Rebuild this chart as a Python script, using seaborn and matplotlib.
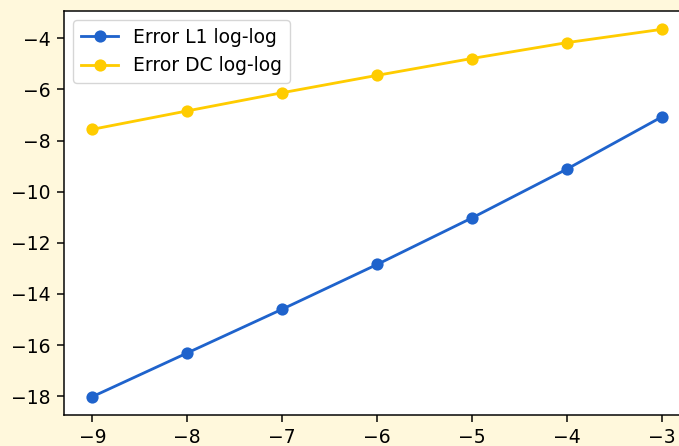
import matplotlib
matplotlib.use("Agg")
import matplotlib.pyplot as plt
import seaborn as sns
import pandas as pd

log_h = [-9, -8, -7, -6, -5, -4, -3]
err_l1 = [-18.02, -16.31, -14.60, -12.85, -11.03, -9.12, -7.08]
err_dc = [-7.56, -6.84, -6.13, -5.45, -4.79, -4.17, -3.65]

df = pd.concat([
    pd.DataFrame({"x": log_h, "y": err_l1, "series": "Error L1 log-log"}),
    pd.DataFrame({"x": log_h, "y": err_dc, "series": "Error DC log-log"}),
])

S = 1.35
plt.rcParams.update({
    'font.family': ['DejaVu Sans'],
    'font.size': 10 * S,
    'axes.linewidth': 0.8 * S,
    'xtick.major.size': 3.5 * S,
    'ytick.major.size': 3.5 * S,
    'xtick.major.width': 0.8 * S,
    'ytick.major.width': 0.8 * S,
    'xtick.major.pad': 3.5 * S,
    'ytick.major.pad': 3.5 * S,
    'xtick.labelsize': 10 * S,
    'ytick.labelsize': 10 * S,
    'legend.fontsize': 10 * S,
})

fig = plt.figure(figsize=(6.79, 4.46), dpi=100, facecolor="#FFF8DC")
ax = fig.add_axes([64/679, 1 - 415/446, 626/679, 404/446])
ax.set_facecolor("white")

sns.lineplot(data=df, x="x", y="y", hue="series", marker="o", markersize=8.8,
             markeredgewidth=0, linewidth=1.5 * S,
             palette={"Error L1 log-log": "#1F63CC", "Error DC log-log": "#FFCC00"},
             ax=ax)

ax.set_xlabel("")
ax.set_ylabel("")
ax.set_yticks([-18, -16, -14, -12, -10, -8, -6, -4])
ax.set_xticks([-9, -8, -7, -6, -5, -4, -3])
leg = ax.legend(loc="upper left", frameon=True)

fig.savefig("out.png", dpi=100, facecolor=fig.get_facecolor())
